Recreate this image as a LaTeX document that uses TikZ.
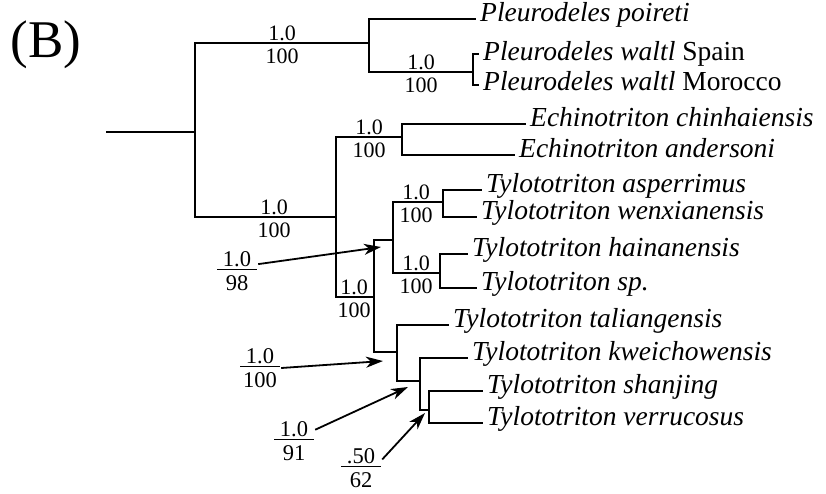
\documentclass[tikz,border=0pt]{standalone}
\usepackage{fontspec}
\setmainfont{Liberation Serif}
\usetikzlibrary{arrows.meta, positioning}

\newcommand\supfrac[2]{\vbox{\hbox to 40pt{\hss#1\hss}\kern2pt\hrule height 1.3pt\kern5pt\hbox to 40pt{\hss#2\hss}}}

\begin{document}
\begin{tikzpicture}[
  x=1pt, y=-1pt,
  br/.style={line width=1.8pt},
  leaf/.style={anchor=west, inner xsep=4pt, inner ysep=0pt,
    font=\fontsize{27.5}{30}\selectfont\itshape, text height=0.66em, text depth=0.15em},
  pp/.style={anchor=south, inner sep=1.5pt, font=\fontsize{22}{24}\selectfont},
  bs/.style={anchor=north, inner sep=1.5pt, yshift=-4pt, font=\fontsize{22}{24}\selectfont},
  fr/.style={inner sep=1pt, font=\fontsize{22.5}{24}\selectfont},
  arr/.style={line width=1.8pt, -{Stealth[length=17pt,width=11pt,inset=5pt]}}
]
  \useasboundingbox (0,0) rectangle (826,493);
  \node[font=\fontsize{53}{56}\selectfont, inner sep=0pt] (panel) at (46,45) {(B)};

  % internal nodes
  \coordinate (root) at (106,132);
  \coordinate (n0) at (195,132);
  \coordinate (nP) at (369,43);
  \coordinate (nW) at (473,72);
  \coordinate (nA) at (336,217);
  \coordinate (nE) at (402,137);
  \coordinate (nT) at (374,297);
  \coordinate (nT1) at (393,240);
  \coordinate (nAW) at (443,202);
  \coordinate (nHS) at (440,273);
  \coordinate (nT2) at (397,352);
  \coordinate (nK) at (420,381);
  \coordinate (nSV) at (429,410);
  \coordinate (tS) at (479,54);
  \coordinate (tM) at (479,85);

  % taxa
  \node[leaf] (poir) at (476,19) {Pleurodeles poireti};
  \node[leaf, right=0pt of tS, yshift=-4pt] (spain) {Pleurodeles waltl \upshape Spain};
  \node[leaf, right=0pt of tM, yshift=-3pt] (moro) {Pleurodeles waltl \upshape Morocco};
  \node[leaf] (chin) at (526,124) {Echinotriton chinhaiensis};
  \node[leaf] (ande) at (515,155) {Echinotriton andersoni};
  \node[leaf] (aspe) at (482,190) {Tylototriton asperrimus};
  \node[leaf] (wenx) at (477,217) {Tylototriton wenxianensis};
  \node[leaf] (hain) at (468,254) {Tylototriton hainanensis};
  \node[leaf] (tsp) at (477,288) {Tylototriton sp.};
  \node[leaf] (tali) at (449,325) {Tylototriton taliangensis};
  \node[leaf] (kwei) at (468,358) {Tylototriton kweichowensis};
  \node[leaf] (shan) at (483,391) {Tylototriton shanjing};
  \node[leaf] (verr) at (483,423) {Tylototriton verrucosus};

  % branches
  \draw[br] (root) -- (n0);
  \draw[br] (n0) |- (nP);
  \draw[br] (n0) |- (nA);
  \draw[br] (nP) |- (poir.west);
  \draw[br] (nP) |- (nW);
  \draw[br] (nW) |- (tS);
  \draw[br] (nW) |- (tM);
  \draw[br] (nA) |- (nE);
  \draw[br] (nA) |- (nT);
  \draw[br] (nE) |- (chin.west);
  \draw[br] (nE) |- (ande.west);
  \draw[br] (nT) |- (nT1);
  \draw[br] (nT) |- (nT2);
  \draw[br] (nT1) |- (nAW);
  \draw[br] (nT1) |- (nHS);
  \draw[br] (nAW) |- (aspe.west);
  \draw[br] (nAW) |- (wenx.west);
  \draw[br] (nHS) |- (hain.west);
  \draw[br] (nHS) |- (tsp.west);
  \draw[br] (nT2) |- (tali.west);
  \draw[br] (nT2) |- (nK);
  \draw[br] (nK) |- (kwei.west);
  \draw[br] (nK) |- (nSV);
  \draw[br] (nSV) |- (shan.west);
  \draw[br] (nSV) |- (verr.west);

  % support values
  \node[pp] (pP) at (282,43) {1.0};   \node[bs] (bP) at (282,43) {100};
  \node[pp] (pW) at (421,72) {1.0};   \node[bs] (bW) at (421,72) {100};
  \node[pp] (pA) at (274,217) {1.0};  \node[bs] (bA) at (274,217) {100};
  \node[pp] (pE) at (369,137) {1.0};  \node[bs] (bE) at (369,137) {100};
  \node[pp] (pT) at (354,297) {1.0};  \node[bs] (bT) at (354,297) {100};
  \node[pp] (pAW) at (416,202) {1.0}; \node[bs] (bAW) at (416,202) {100};
  \node[pp] (pHS) at (416,273) {1.0}; \node[bs] (bHS) at (416,273) {100};

  \node[fr] (f98) at (237,271) {\supfrac{1.0}{98}};
  \node[fr] (f100) at (260,368) {\supfrac{1.0}{100}};
  \node[fr] (f91) at (294,441) {\supfrac{1.0}{91}};
  \node[fr] (f62) at (361,468) {\supfrac{.50}{62}};

  \coordinate (t98) at (381,247);
  \coordinate (t100) at (383,361);
  \coordinate (t91) at (408,387);
  \coordinate (t62) at (425,413);

  \draw[arr] (f98.18) -- (t98);
  \draw[arr] (f100.east) -- (t100);
  \draw[arr] (f91.28) -- (t91);
  \draw[arr] (f62.22) -- (t62);
\end{tikzpicture}
\end{document}
